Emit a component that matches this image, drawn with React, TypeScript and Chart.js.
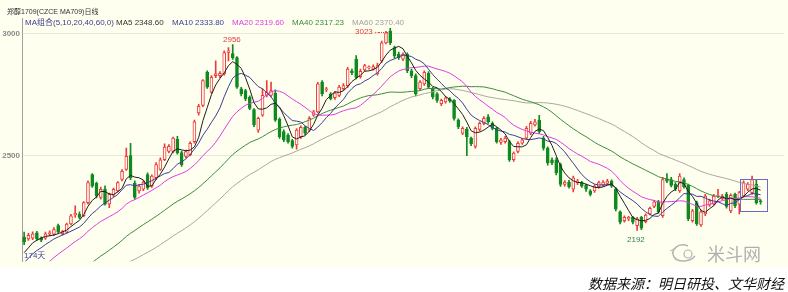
import React, { useEffect, useRef } from "react";
import { Chart, registerables } from "chart.js";

Chart.register(...registerables);

// closes of the 40 sessions before the visible window (only feed the moving averages)
const priorCloses = [
  1800, 1812, 1795, 1808, 1820, 1815, 1830,
  1810, 1805, 1818, 1830, 1825, 1812, 1820, 1835, 1828, 1840, 1819,
  1830, 1842, 1835, 1850, 1862, 1848, 1865, 1872, 1880, 1885,
  1912, 1925, 1970, 1978, 2005, 2012, 2040, 2046, 2072, 2075, 2102, 2107,
];

const opens = [
  2164, 2157, 2160, 2182, 2160, 2160, 2176, 2176, 2211, 2178,
  2184, 2218, 2255, 2259, 2252, 2306, 2421, 2385, 2327, 2361,
  2300, 2336, 2354, 2401, 2442, 2499, 2385, 2354, 2361, 2421,
  2374, 2408, 2442, 2482, 2516, 2516, 2566, 2512, 2496, 2503,
  2557, 2675, 2706, 2842, 2760, 2828, 2828, 2835, 2923, 2919,
  2902, 2774, 2767, 2740, 2688, 2604, 2665, 2747, 2747, 2756,
  2648, 2598, 2584, 2561, 2543, 2577, 2615, 2604, 2665, 2679,
  2801, 2770, 2753, 2737, 2747, 2774, 2787, 2848, 2896, 2824,
  2851, 2860, 2855, 2835, 2889, 2963, 3011, 2943, 2916, 2896,
  2916, 2848, 2828, 2774, 2794, 2837, 2774, 2753, 2713, 2720,
  2733, 2726, 2645, 2591, 2607, 2571, 2537, 2607, 2632, 2659,
  2632, 2611, 2553, 2557, 2557, 2482, 2516, 2550, 2571, 2591,
  2625, 2645, 2571, 2530, 2482, 2482, 2462, 2381, 2390, 2361,
  2388, 2388, 2377, 2354, 2354, 2371, 2377, 2385, 2394, 2363,
  2268, 2232, 2239, 2245, 2211, 2245, 2228, 2259, 2290, 2309,
  2252, 2404, 2401, 2381, 2354, 2401, 2377, 2232, 2306, 2214,
  2259, 2295, 2300, 2331, 2323, 2340, 2272, 2340, 2300, 2333,
  2361, 2347, 2381, 2313,
];

const highs = [
  2185, 2180, 2186, 2188, 2165, 2185, 2190, 2203, 2218, 2192,
  2222, 2258, 2293, 2268, 2310, 2395, 2425, 2390, 2370, 2375,
  2345, 2366, 2392, 2442, 2530, 2550, 2395, 2380, 2396, 2428,
  2420, 2470, 2490, 2548, 2545, 2575, 2578, 2518, 2522, 2556,
  2645, 2710, 2812, 2848, 2828, 2889, 2845, 2930, 2943, 2956,
  2906, 2780, 2772, 2745, 2693, 2658, 2774, 2808, 2801, 2770,
  2655, 2605, 2590, 2566, 2610, 2622, 2620, 2660, 2685, 2800,
  2808, 2780, 2758, 2762, 2788, 2795, 2862, 2855, 2910, 2855,
  2875, 2868, 2872, 2880, 2970, 3010, 3023, 2950, 2925, 2922,
  2922, 2855, 2835, 2808, 2848, 2845, 2780, 2758, 2732, 2742,
  2738, 2730, 2650, 2618, 2615, 2575, 2618, 2638, 2660, 2668,
  2638, 2615, 2570, 2578, 2562, 2515, 2556, 2570, 2620, 2640,
  2648, 2665, 2578, 2535, 2490, 2490, 2468, 2396, 2398, 2415,
  2402, 2393, 2382, 2360, 2380, 2394, 2396, 2402, 2400, 2368,
  2272, 2252, 2250, 2250, 2245, 2250, 2260, 2288, 2315, 2315,
  2410, 2425, 2410, 2388, 2425, 2408, 2382, 2278, 2312, 2275,
  2340, 2320, 2340, 2361, 2340, 2348, 2342, 2345, 2352, 2395,
  2388, 2415, 2401, 2318,
];

const lows = [
  2133, 2150, 2154, 2150, 2145, 2155, 2170, 2170, 2180, 2172,
  2180, 2214, 2245, 2240, 2248, 2300, 2368, 2325, 2320, 2295,
  2285, 2330, 2350, 2395, 2438, 2400, 2320, 2345, 2355, 2360,
  2368, 2400, 2438, 2478, 2510, 2510, 2505, 2455, 2490, 2498,
  2550, 2665, 2700, 2775, 2755, 2820, 2820, 2830, 2889, 2895,
  2775, 2745, 2725, 2688, 2618, 2595, 2660, 2740, 2740, 2640,
  2570, 2557, 2550, 2530, 2526, 2570, 2585, 2598, 2660, 2675,
  2745, 2762, 2728, 2730, 2742, 2768, 2780, 2832, 2815, 2818,
  2845, 2855, 2850, 2830, 2882, 2958, 2955, 2900, 2895, 2890,
  2840, 2820, 2745, 2768, 2788, 2775, 2732, 2718, 2705, 2715,
  2718, 2645, 2610, 2585, 2499, 2540, 2530, 2600, 2625, 2632,
  2605, 2550, 2545, 2550, 2475, 2475, 2510, 2545, 2565, 2585,
  2620, 2590, 2522, 2460, 2462, 2420, 2372, 2374, 2365, 2350,
  2380, 2368, 2352, 2333, 2348, 2365, 2372, 2380, 2368, 2272,
  2218, 2225, 2232, 2218, 2192, 2195, 2222, 2255, 2285, 2262,
  2245, 2388, 2370, 2355, 2348, 2365, 2232, 2225, 2212, 2208,
  2252, 2290, 2295, 2326, 2318, 2283, 2265, 2285, 2259, 2328,
  2355, 2340, 2300, 2300,
];

const closes = [
  2144, 2171, 2178, 2157, 2151, 2178, 2182, 2195, 2184, 2187,
  2218, 2252, 2262, 2245, 2306, 2388, 2374, 2333, 2361, 2300,
  2340, 2361, 2388, 2435, 2496, 2408, 2327, 2374, 2390, 2367,
  2415, 2462, 2482, 2534, 2537, 2571, 2510, 2462, 2516, 2550,
  2638, 2702, 2808, 2781, 2821, 2835, 2837, 2923, 2930, 2902,
  2781, 2753, 2733, 2693, 2625, 2652, 2747, 2760, 2767, 2645,
  2577, 2564, 2557, 2537, 2604, 2615, 2591, 2652, 2679, 2794,
  2753, 2772, 2733, 2756, 2781, 2787, 2855, 2840, 2821, 2846,
  2869, 2862, 2865, 2869, 2963, 3004, 2963, 2909, 2902, 2916,
  2848, 2828, 2753, 2801, 2842, 2781, 2740, 2726, 2726, 2737,
  2724, 2652, 2618, 2611, 2577, 2548, 2611, 2632, 2652, 2638,
  2611, 2557, 2564, 2571, 2482, 2510, 2550, 2564, 2611, 2632,
  2638, 2598, 2530, 2469, 2469, 2428, 2381, 2390, 2371, 2408,
  2394, 2374, 2361, 2340, 2374, 2388, 2390, 2394, 2374, 2279,
  2225, 2245, 2245, 2225, 2239, 2201, 2255, 2282, 2309, 2268,
  2401, 2394, 2377, 2361, 2415, 2371, 2239, 2272, 2218, 2268,
  2333, 2313, 2333, 2335, 2333, 2290, 2336, 2293, 2347, 2388,
  2381, 2401, 2306, 2309,
];

const yTicks = [2500, 3000];
const maPeriods = [5, 10, 20, 40, 60];
const maColors = ["#1e1e1e", "#3c3c96", "#e03ce0", "#3c8c3c", "#a8a89c"];
const slotCount = 179;

const RED = "#ee3b3b";
const GREEN = "#0f8a1f";
const CREAM = "#fffff0";

function movingAverage(period: number): (number | null)[] {
  const all = priorCloses.concat(closes);
  const off = priorCloses.length;
  return closes.map((_, i) => {
    const end = i + off;
    const start = end - period + 1;
    if (start < 0) return null;
    let s = 0;
    for (let k = start; k <= end; k++) s += all[k];
    return s / period;
  });
}

const txt = (
  left: number,
  top: number,
  size: number,
  color: string,
  extra: React.CSSProperties = {}
): React.CSSProperties => ({
  position: "absolute",
  left,
  top,
  fontSize: size,
  lineHeight: 1,
  color,
  whiteSpace: "nowrap",
  fontFamily: "'Liberation Sans', 'Noto Sans CJK SC', sans-serif",
  ...extra,
});

export default function App() {
  const ref = useRef<HTMLCanvasElement>(null);

  useEffect(() => {
    const labels = Array.from({ length: slotCount }, (_, i) => String(i));
    const up = closes.map((c, i) => c >= opens[i]);
    const chart = new Chart(ref.current as HTMLCanvasElement, {
      type: "bar",
      data: {
        labels,
        datasets: [
          ...maPeriods.map((p, k) => ({
            type: "line" as const,
            label: "MA" + p,
            data: movingAverage(p),
            borderColor: maColors[k],
            borderWidth: 1,
            pointRadius: 0,
            tension: 0,
            order: 0,
          })),
          {
            type: "bar" as const,
            label: "body",
            data: closes.map((c, i) => [Math.min(opens[i], c), Math.max(opens[i], c)]),
            backgroundColor: up.map((u) => (u ? CREAM : GREEN)),
            borderColor: up.map((u) => (u ? RED : GREEN)),
            borderWidth: 1,
            borderSkipped: false,
            barThickness: 3,
            grouped: false,
            minBarLength: 1,
            order: 1,
          },
          {
            type: "bar" as const,
            label: "wick",
            data: closes.map((_, i) => [lows[i], highs[i]]),
            backgroundColor: up.map((u) => (u ? RED : GREEN)),
            borderWidth: 0,
            barThickness: 1,
            grouped: false,
            order: 2,
          },
        ],
      } as any,
      options: {
        responsive: false,
        maintainAspectRatio: false,
        animation: false,
        layout: { padding: { left: 0, right: 4, top: 18, bottom: 4 } },
        plugins: { legend: { display: false }, tooltip: { enabled: false } },
        scales: {
          x: {
            type: "category",
            display: false,
            offset: true,
            grid: { display: false },
          },
          y: {
            min: 2065,
            max: 3065,
            position: "left",
            afterFit: (s: any) => {
              s.width = 22;
            },
            afterBuildTicks: (s: any) => {
              s.ticks = yTicks.map((v) => ({ value: v }));
            },
            ticks: {
              color: "#8a8a8a",
              font: { size: 8, family: "'Liberation Sans', sans-serif", weight: "bold" },
              padding: 2,
              callback: (v: any) => String(v),
            },
            grid: { color: "#e8e8d8", drawTicks: false, lineWidth: 1 },
            border: { display: true, color: "#a0a0a0" },
          },
        },
      } as any,
    });
    return () => chart.destroy();
  }, []);

  return (
    <div
      style={{
        position: "absolute",
        left: 0,
        top: 0,
        width: 788,
        height: 292,
        background: "#ffffff",
        overflow: "hidden",
      }}
    >
      <canvas
        ref={ref}
        width={788}
        height={268}
        style={{ position: "absolute", left: 0, top: 0, width: 788, height: 268, background: CREAM }}
      />
      <span style={txt(7, 8, 7, "#333333")}>郑醇1709(CZCE MA709)日线</span>
      <span style={txt(25, 19, 8, "#3c3c8c")}>MA组合(5,10,20,40,60,0)</span>
      <span style={txt(116, 19, 8, "#333333")}>MA5 2348.60</span>
      <span style={txt(172, 19, 8, "#3c3c96")}>MA10 2333.80</span>
      <span style={txt(232, 19, 8, "#e03ce0")}>MA20 2319.60</span>
      <span style={txt(292, 19, 8, "#3c8c3c")}>MA40 2317.23</span>
      <span style={txt(352, 19, 8, "#a0a0a0")}>MA60 2370.40</span>

      <span style={txt(223, 36, 8, "#e03c3c")}>2956</span>
      <span style={txt(355, 28, 8, "#e03c3c")}>3023←</span>
      <div
        style={{
          position: "absolute",
          left: 378,
          top: 32,
          width: 10,
          height: 0,
          borderTop: "1px dotted #e03c3c",
        }}
      />
      <span style={txt(627, 236, 8, "#2f7f4f")}>2192</span>
      <span style={txt(24, 252, 8, "#3c3ca0")}>174天</span>

      <div
        style={{
          position: "absolute",
          left: 740,
          top: 179,
          width: 26,
          height: 31,
          border: "1px solid #6a6ac8",
        }}
      />

      <svg
        width={34}
        height={22}
        style={{ position: "absolute", left: 668, top: 242 }}
        viewBox="0 0 34 22"
      >
        <path d="M20 4 C10 0 2 8 6 15 C10 21 22 20 27 14" fill="none" stroke="#b4b4b4" strokeWidth={1.5} />
        <circle cx={20} cy={12} r={4} fill="none" stroke="#b4b4b4" strokeWidth={1.2} />
        <path d="M2 9 L8 6" stroke="#b4b4b4" strokeWidth={1} />
      </svg>
      <span style={txt(707, 244, 18, "#b0b0b0", { fontFamily: "'Noto Sans CJK SC', sans-serif" })}>米斗网</span>

      <span
        style={txt(588, 276, 14, "#111111", {
          fontFamily: "'Noto Sans CJK SC', sans-serif",
          fontStyle: "italic",
        })}
      >
        数据来源：明日研投、文华财经
      </span>
    </div>
  );
}
